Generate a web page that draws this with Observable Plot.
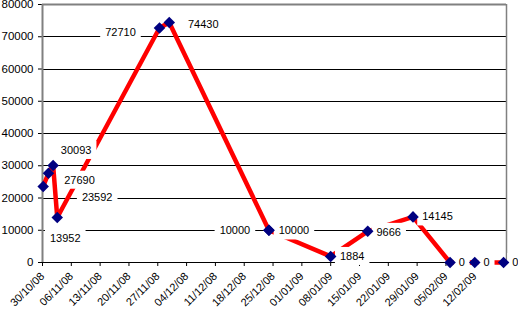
<!DOCTYPE html>
<html><head><meta charset="utf-8">
<script src="https://cdn.jsdelivr.net/npm/d3@7"></script>
<script src="https://cdn.jsdelivr.net/npm/@observablehq/plot@0.6"></script>
<style>body{margin:0;background:white} svg{overflow:visible} g[aria-label^="y-axis"]{font-size:11.5px}</style>
</head><body><div id="chart"></div>
<script>
// Data
const dates = ["2008-10-30 04:00", "2008-10-31 11:00", "2008-11-01 14:00", "2008-11-02 14:00",
  "2008-11-27 10:00", "2008-11-29 19:00", "2008-12-24 00:00", "2008-12-24 00:00",
  "2009-01-08 00:00", "2009-01-17 00:00", "2009-01-28 00:00", "2009-02-06 00:00",
  "2009-02-12 00:00", "2009-02-19 00:00"];
const values = [23592, 27690, 30093, 13952, 72710, 74430, 10000, 10000, 1884, 9666, 14145, 0, 0, 0];
// Label placement (offset of label centre from its point, in px)
const labelDx = [54, 31, 23, 8, -39, 34, -34, 25, 21.5, 21, 24.5, 11.7, 11.7, 11.7];
const labelDy = [11, 7, -15, 21, 4.5, 2, 0.7, 0.7, 0, 1, 0, 0, 0, 0];
const xTickLabels = ["30/10/08","06/11/08","13/11/08","20/11/08","27/11/08","04/12/08","11/12/08",
  "18/12/08","25/12/08","01/01/09","08/01/09","15/01/09","22/01/09","29/01/09","05/02/09","12/02/09"];
const yTicks = [0, 10000, 20000, 30000, 40000, 50000, 60000, 70000, 80000];
const xEnd = "2009-02-19 17:00";

const parseT = d3.utcParse("%Y-%m-%d %H:%M");
const parseTick = d3.utcParse("%d/%m/%y");
const data = dates.map((d, i) => ({date: parseT(d), value: values[i], label: String(values[i])}));
const xTickDates = xTickLabels.map(parseTick);
const xStart = xTickDates[0];
const xStop = parseT(xEnd);

const labelMarks = data.map((d, i) => Plot.text([d], {
  x: "date", y: "value", text: "label", dx: labelDx[i], dy: labelDy[i],
  fill: "black", fontSize: 11
}));

const chart = Plot.plot({
  width: 518, height: 314,
  marginLeft: 42, marginRight: 12, marginTop: 4, marginBottom: 52,
  style: {fontFamily: "'Liberation Sans', Arial, sans-serif", fontSize: "11px", color: "black", background: "white", overflow: "visible"},
  x: {type: "utc", domain: [xStart, xStop], ticks: xTickDates, tickFormat: (d) => d3.utcFormat("%d/%m/%y")(d),
      tickRotate: -45, tickSize: 4, label: null},
  y: {domain: [0, 80000], ticks: yTicks, tickFormat: d => String(d), tickSize: 4, tickPadding: 5, label: null},
  marks: [
    Plot.ruleY(yTicks.slice(0, -1), {stroke: "black", strokeWidth: 1, shapeRendering: "crispEdges"}),
    Plot.ruleY(yTicks.slice(-1), {stroke: "#808080", strokeWidth: 2}),
    Plot.ruleX([xStart], {stroke: "#808080", strokeWidth: 2}),
    Plot.ruleX([xStop], {stroke: "#808080", strokeWidth: 1.5}),
    Plot.line(data, {x: "date", y: "value", stroke: "#ff0000", strokeWidth: 4.5}),
    Plot.dot(data, {x: "date", y: "value", symbol: "diamond2", r: 5.2, fill: "#000080", stroke: "none"}),
    ...labelMarks
  ]
});
document.getElementById("chart").appendChild(chart);

// white boxes behind the data labels (covering line and gridlines, below the markers)
const svgRect = chart.getBoundingClientRect();
const ns = "http://www.w3.org/2000/svg";
const boxG = document.createElementNS(ns, "g");
chart.querySelectorAll('g[aria-label="text"] text').forEach(t => {
  const r = t.getBoundingClientRect();
  const cx = (r.left + r.right) / 2 - svgRect.left;
  const cy = (r.top + r.bottom) / 2 - svgRect.top;
  const rect = document.createElementNS(ns, "rect");
  rect.setAttribute("x", cx - r.width / 2 - 5);
  rect.setAttribute("y", cy - 9);
  rect.setAttribute("width", r.width + 10);
  rect.setAttribute("height", 18);
  rect.setAttribute("fill", "white");
  boxG.appendChild(rect);
});
const dotG = chart.querySelector('g[aria-label="dot"]');
dotG.parentNode.insertBefore(boxG, dotG);
</script>
</body></html>
